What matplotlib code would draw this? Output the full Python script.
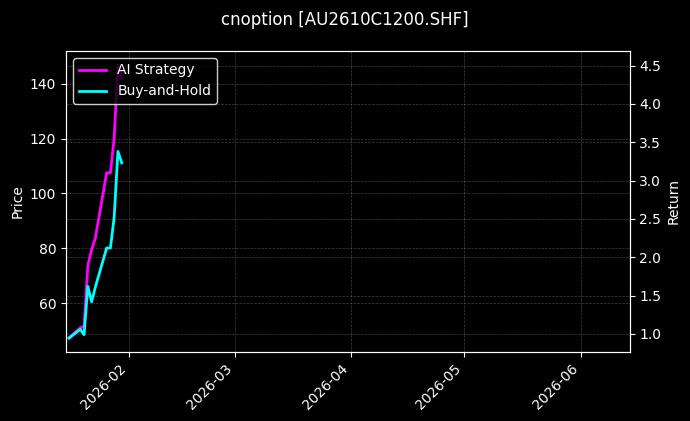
import numpy as np
import pandas as pd
import matplotlib
matplotlib.use("Agg")
import matplotlib.pyplot as plt
import matplotlib.dates as mdates

# =====================================================
# DATA
# =====================================================

dates = pd.to_datetime([
    "2026-01-16", "2026-01-19", "2026-01-20", "2026-01-21", "2026-01-22",
    "2026-01-23", "2026-01-26", "2026-01-27", "2026-01-28", "2026-01-29",
    "2026-01-30",
])
ai_strategy = [0.95, 1.08, 1.10, 1.89, 2.10, 2.25, 3.10, 3.10, 3.55, 4.51, 4.33]
buy_and_hold = [0.945, 1.06, 0.99, 1.62, 1.42, 1.61, 2.12, 2.12, 2.52, 3.38, 3.23]

title = "cnoption [AU2610C1200.SHF]"

# =====================================================
# PLOT
# =====================================================

plt.style.use("dark_background")
fig = plt.figure(figsize=(6.9, 4.21), dpi=100)
ax = fig.add_axes([0.0957, 0.164, 0.8169, 0.715])
ax2 = ax.twinx()

ax2.plot(dates, ai_strategy, color="magenta", lw=2, label="AI Strategy")
ax2.plot(dates, buy_and_hold, color="cyan", lw=2, label="Buy-and-Hold")

ax.set_xlim(pd.Timestamp("2026-01-15 05:00"), pd.Timestamp("2026-06-14"))
ax.set_ylim(42.3, 151.9)
ax2.set_ylim(0.765, 4.69)

ax.set_ylabel("Price")
ax2.set_ylabel("Return")

ax.xaxis.set_major_locator(mdates.MonthLocator())
ax.xaxis.set_major_formatter(mdates.DateFormatter("%Y-%m"))
for lbl in ax.get_xticklabels():
    lbl.set_rotation(45)
    lbl.set_ha("right")

ax.grid(True, ls="--", lw=0.5, color="gray", alpha=0.5)
ax2.grid(True, ls="--", lw=0.5, color="gray", alpha=0.5)

leg = ax2.legend(loc="upper left", facecolor="black", edgecolor="white", framealpha=0.8)

fig.suptitle(title, fontsize=12, y=0.975)

fig.savefig("out.png", dpi=100)
